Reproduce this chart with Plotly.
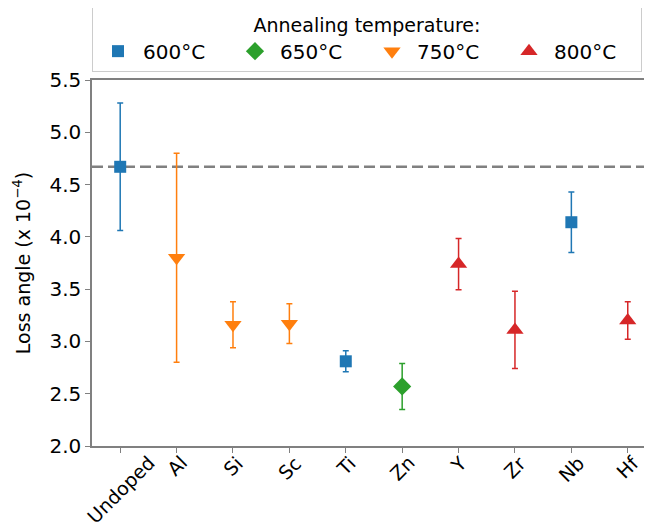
import plotly.graph_objects as go

categories = ["Undoped", "Al", "Si", "Sc", "Ti", "Zn", "Y", "Zr", "Nb", "Hf"]

s600_x = ["Undoped", "Ti", "Nb"]
s600_y = [4.67, 2.81, 4.14]
s600_err = [0.61, 0.10, 0.29]

s650_x = ["Zn"]
s650_y = [2.57]
s650_err = [0.22]

s750_x = ["Al", "Si", "Sc"]
s750_y = [3.80, 3.16, 3.17]
s750_err = [1.00, 0.22, 0.19]

s800_x = ["Y", "Zr", "Hf"]
s800_y = [3.74, 3.11, 3.20]
s800_err = [0.245, 0.37, 0.18]

undoped_ref = 4.67

series = [
    ("600°C", s600_x, s600_y, s600_err, "#1f77b4", "square", 12),
    ("650°C", s650_x, s650_y, s650_err, "#2ca02c", "diamond", 14),
    ("750°C", s750_x, s750_y, s750_err, "#ff7f0e", "triangle-down", 15),
    ("800°C", s800_x, s800_y, s800_err, "#d62728", "triangle-up", 15),
]

fig = go.Figure()
for name, xs, ys, es, col, sym, sz in series:
    fig.add_trace(go.Scatter(
        x=xs, y=ys, mode="markers", name=name,
        marker=dict(color=col, symbol=sym, size=sz),
        error_y=dict(type="data", array=es, visible=True, color=col,
                     thickness=1.5, width=3),
    ))

fig.add_shape(type="line", xref="paper", yref="y", x0=0, x1=1,
              y0=undoped_ref, y1=undoped_ref,
              line=dict(color="#808080", width=2.5, dash="11px,5px"), layer="below")

# rotated category labels, centred under each tick (like ha="center")
for c in categories:
    fig.add_annotation(x=c, xref="x", y=0, yref="paper", text=c,
                       showarrow=False, textangle=-45, xanchor="center",
                       yanchor="top", yshift=-3, font=dict(size=19))

font = "DejaVu Sans, Verdana, sans-serif"
fig.update_layout(
    width=644, height=521,
    margin=dict(l=84, r=0, t=72, b=83, autoexpand=False),
    plot_bgcolor="white", paper_bgcolor="white",
    font=dict(family=font, size=19, color="black"),
    showlegend=True,
    legend=dict(
        orientation="h", x=0.0, xanchor="left", y=1.022, yanchor="bottom",
        bordercolor="#cccccc", borderwidth=1,
        title=dict(text="Annealing temperature:", side="top center",
                   font=dict(size=19)),
        font=dict(size=20), entrywidth=82, entrywidthmode="pixels",
        itemwidth=40,
    ),
    xaxis=dict(
        type="category", categoryorder="array", categoryarray=categories,
        range=[-0.5, 9.43], showticklabels=False,
        showline=True, linecolor="#808080", linewidth=1.5, mirror=True,
        ticks="outside", ticklen=5, tickcolor="#808080",
        showgrid=False, zeroline=False,
    ),
    yaxis=dict(
        range=[2.0, 5.5], dtick=0.5, tickformat=".1f",
        showline=True, linecolor="#808080", linewidth=1.5,
        ticks="outside", ticklen=5, tickcolor="#808080",
        showgrid=False, zeroline=False, tickfont=dict(size=20),
        automargin=False,
        title=dict(text="Loss angle (x 10<sup>−4</sup>)", font=dict(size=19),
                   standoff=14),
    ),
)

fig.write_html("out.html")
